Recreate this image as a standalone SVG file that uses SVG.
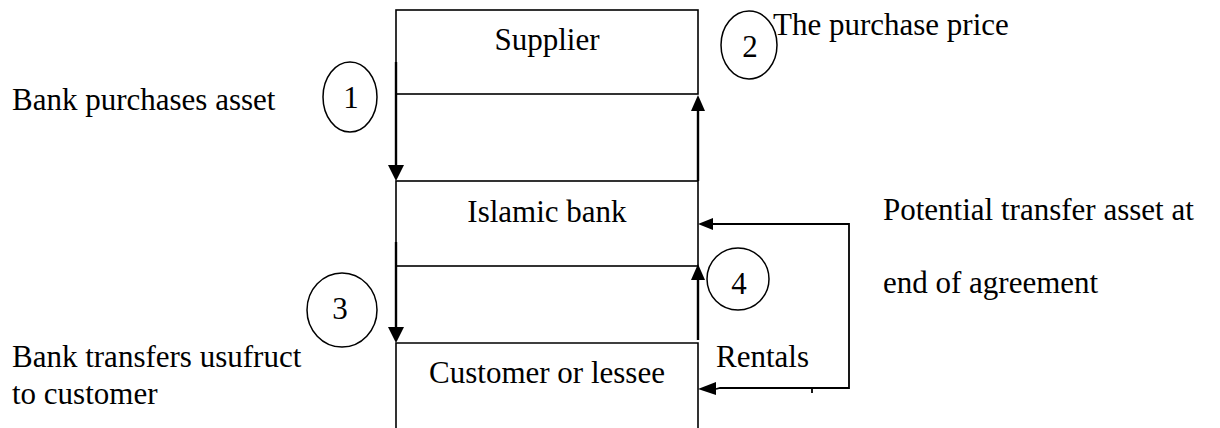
<svg xmlns="http://www.w3.org/2000/svg" width="1220" height="428" viewBox="0 0 1220 428">
<style>
text{font-family:"Liberation Serif","Times New Roman",serif;font-size:31px;fill:#000}
.box{fill:none;stroke:#000;stroke-width:1.6}
.arr{fill:none;stroke:#000;stroke-width:2.4}
.thin{fill:none;stroke:#000;stroke-width:1.8}
.ring{fill:#fff;stroke:#000;stroke-width:1.5}
.head{fill:#000}
.c{text-anchor:middle}
</style>
<rect width="1220" height="428" fill="#fff"/>
<g id="supplier">
<rect class="box" x="396" y="10" width="302" height="84"/>
<text class="c" x="547" y="50">Supplier</text>
</g>
<g id="islamic-bank">
<rect class="box" x="396" y="181" width="302" height="85"/>
<text class="c" x="547" y="222">Islamic bank</text>
</g>
<g id="customer">
<path class="box" d="M396,440 V343 H698 V440"/>
<text class="c" x="547" y="383">Customer or lessee</text>
</g>
<g id="connectors">
<line class="arr" x1="396" y1="62" x2="396" y2="167"/>
<polygon class="head" points="388,165 404,165 396,181"/>
<line class="arr" x1="698" y1="181" x2="698" y2="108"/>
<polygon class="head" points="691,111 705,111 698,95"/>
<line class="arr" x1="396" y1="242" x2="396" y2="329"/>
<polygon class="head" points="388,327 404,327 396,343"/>
<line class="arr" x1="698" y1="340" x2="698" y2="278"/>
<polygon class="head" points="691,280 705,280 698,264"/>
<path class="thin" d="M712,224 H849 V388 H720 L716,389"/>
<polygon class="head" points="713,218 713,230 698,224"/>
<polygon class="head" points="716,382 716,395 698,389"/>
<line class="thin" x1="812" y1="388" x2="812" y2="393" stroke-width="1"/>
</g>
<g id="step1">
<ellipse class="ring" cx="350" cy="97" rx="27" ry="35"/>
<text class="c" x="351" y="108">1</text>
</g>
<g id="step2">
<ellipse class="ring" cx="749" cy="45" rx="28" ry="34"/>
<text class="c" x="750" y="57">2</text>
</g>
<g id="step3">
<ellipse class="ring" cx="342" cy="310" rx="35" ry="37"/>
<text class="c" x="340" y="319">3</text>
</g>
<g id="step4">
<ellipse class="ring" cx="738" cy="279" rx="31" ry="31"/>
<text class="c" x="739" y="294">4</text>
</g>
<g id="labels">
<text x="773" y="35">The purchase price</text>
<text x="12" y="110">Bank purchases asset</text>
<text x="12" y="367">Bank transfers usufruct</text>
<text x="12" y="404">to customer</text>
<text x="883" y="220">Potential transfer asset at</text>
<text x="883" y="293">end of agreement</text>
<text x="716" y="367">Rentals</text>
</g>
</svg>
